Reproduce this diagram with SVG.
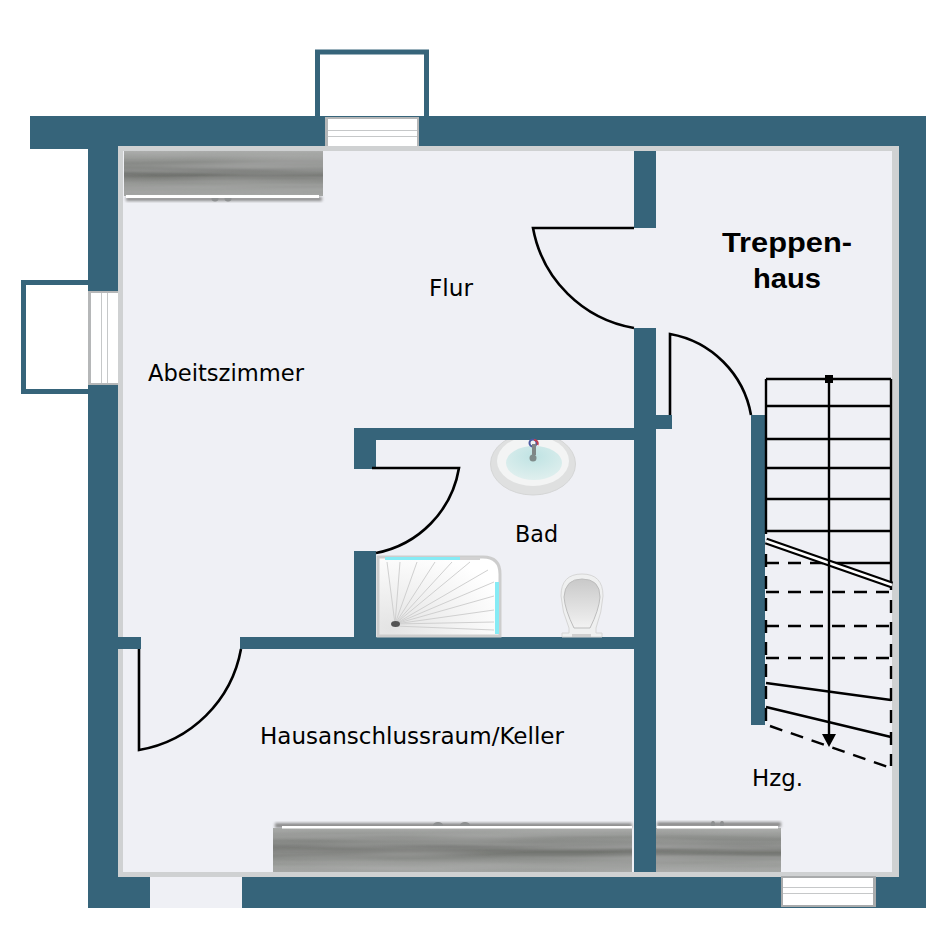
<svg xmlns="http://www.w3.org/2000/svg" width="946" height="945" viewBox="0 0 946 945">
<style>
.w{fill:#36647a}
.l{font-family:"DejaVu Sans",sans-serif;font-size:23.500px;fill:#000}
.b{font-family:"Liberation Sans",sans-serif;font-weight:700;font-size:28px;fill:#000}
.d{fill:none;stroke:#000;stroke-width:2.600}
.s{fill:none;stroke:#000;stroke-width:2.400}
.da{stroke-dasharray:13 9}
.g{stroke:#c6c8c9;stroke-width:1;fill:none}
.bal{fill:#fff;stroke:#36647a;stroke-width:5}
</style>
<defs>
<linearGradient id="wood" x1="0" y1="0" x2="0" y2="1">
<stop offset="0" stop-color="#a8aaa8"/><stop offset=".2" stop-color="#8f918e"/><stop offset=".4" stop-color="#7d7f7c"/><stop offset=".55" stop-color="#71736f"/><stop offset=".75" stop-color="#949693"/><stop offset="1" stop-color="#a0a2a0"/>
</linearGradient>
<filter id="streak" x="0" y="0" width="1" height="1">
<feTurbulence type="fractalNoise" baseFrequency="0.005 0.14" numOctaves="2" seed="4" result="n"/>
<feColorMatrix in="n" type="matrix" values="0 0 0 0 .5  0 0 0 0 .5  0 0 0 0 .5  .7 0 0 0 -.2" result="m"/>
<feComposite in="m" in2="SourceGraphic" operator="in" result="c"/>
<feMerge><feMergeNode in="SourceGraphic"/><feMergeNode in="c"/></feMerge>
</filter>
<filter id="sh" x="-5%" y="-30%" width="110%" height="160%"><feGaussianBlur stdDeviation="1.500"/></filter>
<radialGradient id="ray" cx=".1" cy=".9" r="1"><stop offset="0" stop-color="#e4e4e4"/><stop offset="1" stop-color="#fff"/></radialGradient>
<linearGradient id="toil" x1="0" y1="0" x2="0" y2="1"><stop offset="0" stop-color="#c9c9c9"/><stop offset="1" stop-color="#f2f2f2"/></linearGradient>
<radialGradient id="teal" cx=".5" cy=".3" r=".75"><stop offset="0" stop-color="#bfe3e3"/><stop offset="1" stop-color="#e2f0ef"/></radialGradient>
</defs>

<g id="balkon-oben"><rect class="bal" x="317.500" y="52" width="109" height="70"/></g>
<g id="balkon-links"><rect class="bal" x="23.500" y="282.500" width="70" height="109"/></g>

<g id="waende">
<rect class="w" x="30" y="116" width="896" height="33"/>
<rect class="w" x="88" y="116" width="34" height="792"/>
<rect class="w" x="892" y="116" width="34" height="792"/>
<rect class="w" x="88" y="872" width="838" height="36"/>
</g>

<g id="boden">
<rect x="118" y="146" width="781" height="731" fill="#cfd1d2"/>
<rect x="123" y="151" width="769" height="721" fill="#eff0f5"/>
</g>

<g id="fenster-oben">
<rect x="325" y="117" width="94" height="29" fill="#b5b7b8"/>
<rect x="328" y="119" width="89" height="27" fill="#fff"/>
<path class="g" d="M328 130.500H417M328 136.500H417"/>
</g>
<g id="fenster-links">
<rect x="88" y="291" width="30" height="94" fill="#b5b7b8"/>
<rect x="91" y="293" width="27" height="90" fill="#fff"/>
<path class="g" d="M101.500 293V383M107.500 293V383"/>
</g>
<g id="fenster-unten">
<rect x="781" y="876" width="95" height="31" fill="#a9abac"/>
<rect x="783" y="878" width="90" height="27" fill="#fff"/>
<path class="g" d="M783 887.500H873M783 893.500H873"/>
</g>
<g id="tuer-unten"><rect x="150" y="877" width="92" height="31" fill="#eff0f5"/></g>

<g id="heizung-1">
<rect x="126" y="197" width="196" height="4" fill="#8a8a8a" filter="url(#sh)"/>
<ellipse cx="215" cy="198.500" rx="3.500" ry="3" fill="#8d8f90"/><ellipse cx="228" cy="198.500" rx="3.500" ry="3" fill="#8d8f90"/>
<rect x="124" y="151" width="199" height="45" fill="url(#wood)" filter="url(#streak)"/>
<rect x="126" y="195" width="193" height="3" fill="#fff"/>
</g>
<g id="heizung-2">
<rect x="275" y="823" width="357" height="5" fill="#8a8a8a" filter="url(#sh)"/>
<ellipse cx="438" cy="825" rx="5" ry="3" fill="#8d8f90"/><ellipse cx="465" cy="825" rx="5" ry="3" fill="#8d8f90"/>
<rect x="273" y="828" width="359" height="44" fill="url(#wood)" filter="url(#streak)"/>
<rect x="282" y="826" width="350" height="2.500" fill="#fff"/>
</g>
<g id="heizung-3">
<rect x="657" y="822" width="124" height="5" fill="#8a8a8a" filter="url(#sh)"/>
<ellipse cx="713" cy="824" rx="2" ry="3" fill="#8d8f90"/><ellipse cx="722" cy="824" rx="2" ry="3" fill="#8d8f90"/>
<rect x="656" y="828" width="125" height="44" fill="url(#wood)" filter="url(#streak)"/>
<rect x="657" y="826" width="121" height="2.500" fill="#fff"/>
</g>

<g id="innenwaende">
<rect class="w" x="634" y="151" width="22" height="77"/>
<rect class="w" x="634" y="328" width="22" height="544"/>
<rect class="w" x="656" y="415" width="16" height="14"/>
<rect class="w" x="751" y="415" width="14" height="310"/>
<rect class="w" x="354" y="428" width="280" height="12"/>
<rect class="w" x="354" y="428" width="22" height="41"/>
<rect class="w" x="354" y="551" width="22" height="86"/>
<rect class="w" x="240" y="637" width="394" height="12"/>
<rect class="w" x="118" y="637" width="23" height="12"/>
</g>

<g id="waschbecken">
<ellipse cx="533" cy="464" rx="42.500" ry="31" fill="#dfe0e0" stroke="#d5d6d6"/>
<ellipse cx="533" cy="461" rx="36" ry="25" fill="#f3f4f4"/>
<ellipse cx="534" cy="463" rx="28" ry="17" fill="url(#teal)"/>
<rect class="w" x="480" y="428" width="110" height="12"/>
<circle cx="533" cy="443" r="3.500" fill="none" stroke="#4a5aa0" stroke-width="2"/>
<path d="M534 440 a3.500 3.500 0 0 1 3.500 5" fill="none" stroke="#c04050" stroke-width="2"/>
<path d="M534 444V455" stroke="#7f8686" stroke-width="4"/>
<circle cx="533" cy="458" r="3.500" fill="#7f8b8a"/>
</g>

<g id="dusche">
<path d="M378 557H483Q500 557 500 574V636H378Z" fill="url(#ray)" stroke="#cdcdcd" stroke-width="3"/>
<path d="M385 558.500H460" stroke="#86ebf5" stroke-width="3" fill="none"/>
<path d="M460 558.500H480" stroke="#d2d2d2" stroke-width="3" fill="none"/>
<path d="M497 582V634" stroke="#86ebf5" stroke-width="4" fill="none"/>
<path d="M395 624L387 562M395 624L400 562M395 624L417 562M395 624L435 562M395 624L452 562M395 624L470 562M395 624L488 570M395 624L494 582M395 624L494 596M395 624L494 610M395 624L494 622M395 626L494 630" stroke="#d0d0d0" stroke-width="1" fill="none"/>
<ellipse cx="395.500" cy="624" rx="4.500" ry="3" fill="#555"/>
</g>

<g id="toilette">
<path d="M562 637V633H569V628Q562 612 561 596Q561 574 582 574Q603 574 603 596Q602 612 596 628V633H602V637Z" fill="#eff0f0" stroke="#d6d6d6"/>
<path d="M574 628Q565 610 564 597Q565 579 582 579Q600 579 600 597Q599 610 590 628Z" fill="url(#toil)" stroke="#bdbdbd"/>
<rect x="572" y="634" width="19" height="3" fill="#cfcfcf"/>
</g>

<g id="verbinder">
<path class="d" d="M634 228H533A124 124 0 0 0 634 328"/>
<path class="d" d="M670 415V334A100 100 0 0 1 751 415"/>
<path class="d" d="M372 468H459A104 104 0 0 1 376 553"/>
<path class="d" d="M139 649V750A125 125 0 0 0 241 649"/>
</g>

<g id="treppe">
<path class="s" d="M766 379H891M766 406H891M766 439H891M766 468H891M766 499H891M766 531H891M766 379V534M891 379V590"/>
<path class="s da" d="M766 563H827"/><path class="s" d="M827 563H891"/>
<path class="s da" d="M766 592H891M766 626H891M766 658H891"/>
<path class="s da" d="M766 554V723M891 600V766"/>
<path class="s" d="M766 683L891 700M766 707L891 737"/>
<path class="s da" d="M770 726L891 768"/>
<path stroke="#000" stroke-width="7" fill="none" d="M766 541L892 585"/>
<path stroke="#fff" stroke-width="2.800" fill="none" d="M766 541L892 585"/>
<path class="s" d="M829 379V737"/>
<rect x="825" y="375" width="8" height="8"/>
<path d="M822 734H836L829 747Z"/>
</g>

<g id="beschriftung">
<text class="l" x="429" y="296" textLength="44" lengthAdjust="spacingAndGlyphs">Flur</text>
<text class="l" x="148" y="381" textLength="156" lengthAdjust="spacingAndGlyphs">Abeitszimmer</text>
<text class="l" x="515" y="542" textLength="43" lengthAdjust="spacingAndGlyphs">Bad</text>
<text class="l" x="260" y="744" textLength="304" lengthAdjust="spacingAndGlyphs">Hausanschlussraum/Keller</text>
<text class="l" x="752" y="786" textLength="51" lengthAdjust="spacingAndGlyphs">Hzg.</text>
<text class="b" x="722" y="252" textLength="130" lengthAdjust="spacingAndGlyphs">Treppen-</text>
<text class="b" x="753" y="288" textLength="68" lengthAdjust="spacingAndGlyphs">haus</text>
</g>
</svg>
